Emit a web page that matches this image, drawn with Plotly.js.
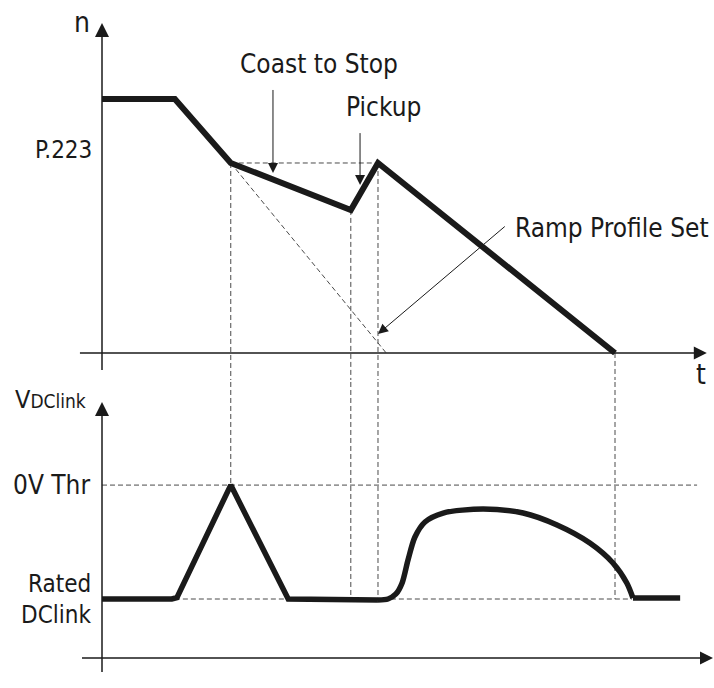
<!DOCTYPE html>
<html><head><meta charset="utf-8">
<script src="https://cdn.plot.ly/plotly-3.0.1.min.js"></script>
<style>html,body{margin:0;padding:0;background:#fff}</style>
</head><body><div id="chart" style="width:714px;height:688px"></div>
<script>
// Time axis: t = 100 where the motor stops. Speed n: P.223 = 100. DC-link voltage: 0 at the time axis.
const speedT = [0, 14.2, 25.1, 48.5, 53.8, 100];
const speedN = [133.7, 133.7, 100, 75.3, 100, 0];
const vLinT = [0, 13.6, 14.6, 25.1, 36.3, 53.8];
const vLinV = [31.05, 31.05, 31.8, 91, 31, 30.5];
const vSplT = [53.8, 55.75, 57.3, 58.5, 59.65, 61.0, 62.96, 66.5, 74.3, 82.1, 88.7, 95.1, 99.6, 102.3, 103.5];
const vSplV = [30.5, 31.05, 33.7, 39.5, 51.6, 63.7, 71.6, 76.3, 78.4, 76.3, 70, 60.5, 50, 39.5, 31.6];
const vEndT = [103.5, 112.7];
const vEndV = [31.6, 31.6];
const P223 = 100, RATED = 31.05, OV_THR = 91;
const tCoast = 25.1, tPickStart = 48.5, tPickEnd = 53.8, tStop = 100, tRampZero = 55.4;
const tRatedStart = 14.2, tRatedEnd = 103.3, tOvEnd = 116;
const labelN = 'n', labelT = 't', labelP223 = 'P.223', labelCoast = 'Coast to Stop',
      labelPickup = 'Pickup', labelRamp = 'Ramp Profile Set', labelOv = '0V Thr',
      labelRated = 'Rated', labelDC = 'DClink';

const FONT = '"DejaVu Sans Condensed", "DejaVu Sans", sans-serif';
const INK = '#1a1a1a', DASH = '#4a4a4a';

function line(x, y, opts) {
  return Object.assign({x: x, y: y, mode: 'lines', hoverinfo: 'skip',
    line: {color: INK, width: 1.5}}, opts || {});
}
function dashed(x, y, yaxis) {
  return line(x, y, {yaxis: yaxis || 'y', line: {color: DASH, width: 1, dash: '5px,3px'}});
}
function arrowTip(x, y, sym, size, yaxis) {
  return {x: [x], y: [y], yaxis: yaxis || 'y', mode: 'markers', hoverinfo: 'skip', cliponaxis: false,
    marker: {symbol: sym, size: size, color: INK, line: {width: 0}}};
}

const traces = [
  // guide lines, top
  dashed([tCoast, tPickEnd], [P223, P223]),
  dashed([tCoast, tRampZero], [P223, 0]),
  dashed([tCoast, tCoast, null, tPickStart, tPickStart, null, tPickEnd, tPickEnd, null, tStop, tStop],
         [P223, -30, null, speedN[3], -30, null, P223, -30, null, 0, -30]),
  // guide lines, bottom
  dashed([tCoast, tCoast, null, tPickStart, tPickStart, null, tPickEnd, tPickEnd, null, tStop, tStop],
         [200, OV_THR, null, 200, RATED, null, 200, RATED, null, 200, RATED], 'y2'),
  dashed([0, tOvEnd], [OV_THR, OV_THR], 'y2'),
  dashed([tRatedStart, tRatedEnd], [RATED, RATED], 'y2'),
  // axes, top
  line([0, 0], [-9, 168]),
  line([-4.3, 116], [0, 0]),
  arrowTip(0, 173.7, 'arrow-up', 14),
  arrowTip(117.9, 0, 'arrow-right', 13),
  // axes, bottom
  line([0, 0], [-7.4, 130], {yaxis: 'y2'}),
  line([-3.9, 117], [0, 0], {yaxis: 'y2'}),
  arrowTip(0, 134.7, 'arrow-up', 14, 'y2'),
  arrowTip(119.1, 0, 'arrow-right', 13, 'y2'),
  // curves
  line(speedT, speedN, {line: {color: INK, width: 6}}),
  line(vLinT, vLinV, {yaxis: 'y2', line: {color: INK, width: 5.5}}),
  line(vSplT, vSplV, {yaxis: 'y2', line: {color: INK, width: 5.5, shape: 'spline', smoothing: 0.8}}),
  line(vEndT, vEndV, {yaxis: 'y2', line: {color: INK, width: 5.5}})
];

function label(text, x, y, xanchor, size, yref) {
  return {text: text, x: x, y: y, xref: 'x', yref: yref || 'y', xanchor: xanchor, yanchor: 'middle',
    showarrow: false, font: {family: FONT, size: size, color: INK}};
}
function pointer(x, y, ax, ay) {
  return {x: x, y: y, ax: ax, ay: ay, xref: 'x', yref: 'y', axref: 'x', ayref: 'y',
    showarrow: true, arrowhead: 2, arrowsize: 2, arrowwidth: 1, arrowcolor: INK, standoff: 0};
}

const annotations = [
  label(labelN, -3.9, 173.9, 'center', 28),
  label(labelP223, -1.56, 106.9, 'right', 24),
  label(labelCoast, 42.3, 152, 'center', 26),
  label(labelPickup, 54.9, 129.4, 'center', 26),
  label(labelRamp, 80.1, 65.7, 'left', 26),
  label(labelT, 116.8, -11.3, 'center', 28),
  label('V<span style="font-size:19px">DClink</span>', -17.35, 136, 'left', 25, 'y2'),
  label(labelOv, -1.95, 91, 'right', 26, 'y2'),
  label(labelRated, -1.75, 38.8, 'right', 24, 'y2'),
  label(labelDC, -1.75, 22.5, 'right', 24, 'y2'),
  pointer(33.33, 94.7, 33.33, 143.7),
  pointer(50.3, 88.4, 50.3, 121),
  pointer(53.8, 10, 79.1, 67.9)
];

const layout = {
  width: 714, height: 688,
  margin: {l: 0, r: 0, t: 0, b: 0, pad: 0},
  paper_bgcolor: '#fff', plot_bgcolor: '#fff',
  showlegend: false,
  xaxis: {range: [-19.883, 119.298], visible: false, fixedrange: true},
  yaxis: {domain: [0.4477, 1], range: [-14.21, 185.79], visible: false, fixedrange: true},
  yaxis2: {domain: [0, 0.4477], range: [-15.79, 146.32], visible: false, fixedrange: true, anchor: 'x'},
  annotations: annotations
};

Plotly.newPlot('chart', traces, layout, {displayModeBar: false, staticPlot: true});
</script></body></html>
